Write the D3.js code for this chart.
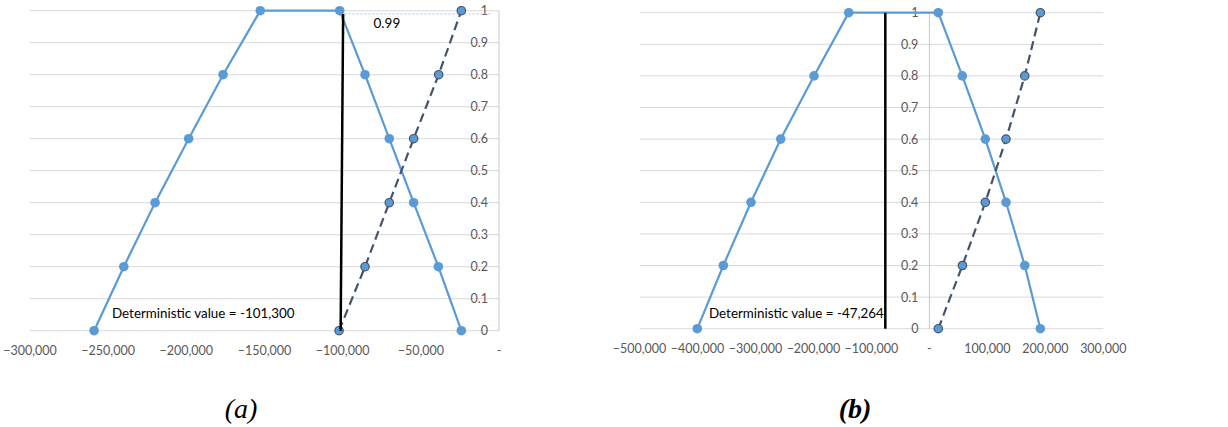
<!DOCTYPE html>
<html>
<head>
<meta charset="utf-8">
<script src="https://cdn.jsdelivr.net/npm/d3@7"></script>
<style>
  body { margin: 0; background: #fff; }
  svg { display: block; }
</style>
</head>
<body>
<svg id="chart" width="1228" height="427"></svg>
<script>
// membership levels, same for both panels
const solidLevels = [0, 0.2, 0.4, 0.6, 0.8, 1, 1, 0.8, 0.6, 0.4, 0.2, 0];
const dashLevels = [0, 0.2, 0.4, 0.6, 0.8, 1];
const yTicks = [0, 0.1, 0.2, 0.3, 0.4, 0.5, 0.6, 0.7, 0.8, 0.9, 1];

// panel (a)
const aSolidX = [-259000, -240000, -220000, -198500, -176500, -152700, -101900, -85700, -70200, -54600, -38800, -24100];
const aDashX = [-102300, -85700, -70200, -54600, -38600, -24100];
const aTicks = [-300000, -250000, -200000, -150000, -100000, -50000, 0];
const aDet = { x0: -101300, x1: -99700, top: 0.99, label: "Deterministic value = -101,300" };

// panel (b)
const bSolidX = [-400300, -355400, -307700, -256400, -199000, -139100, 15400, 56800, 96500, 132200, 164500, 191400];
const bDashX = [15400, 57000, 96500, 132200, 164500, 191400];
const bTicks = [-500000, -400000, -300000, -200000, -100000, 0, 100000, 200000, 300000];
const bDet = { x0: -76000, x1: -76000, top: 1, label: "Deterministic value = -47,264" };

const blue = "#5b9bd5", slate = "#44546a";
const svg = d3.select("#chart");

function fmtX(v) { return v === 0 ? "-" : d3.format(",")(v); }
function fmtY(v) { return v === 0 ? "0" : v === 1 ? "1" : d3.format(".1f")(v); }

function panel(opt) {
  const g = svg.append("g");
  const x = d3.scaleLinear().domain(opt.xDomain).range(opt.xRange);
  const y = d3.scaleLinear().domain([0, 1]).range(opt.yRange);

  // gridlines
  g.selectAll(".grid").data(yTicks).enter().append("line")
    .attr("x1", opt.xRange[0]).attr("x2", opt.xRange[1])
    .attr("y1", d => y(d)).attr("y2", d => y(d))
    .attr("stroke", "#d9d9d9").attr("stroke-width", 1);

  // vertical axis sits at x = 0
  g.append("line")
    .attr("x1", x(0)).attr("x2", x(0))
    .attr("y1", y(1)).attr("y2", y(0))
    .attr("stroke", "#c8c8c8").attr("stroke-width", 1);

  g.selectAll(".ylab").data(yTicks).enter().append("text")
    .attr("x", x(0) - 11).attr("y", d => y(d))
    .attr("text-anchor", "end").attr("dominant-baseline", "central")
    .attr("font-family", "Lato, sans-serif").attr("font-size", 12.5)
    .attr("fill", "#595959").text(fmtY);

  g.selectAll(".xlab").data(opt.ticks).enter().append("text")
    .attr("x", d => x(d)).attr("y", opt.xLabY)
    .attr("text-anchor", "middle").attr("dominant-baseline", "central")
    .attr("font-family", "Lato, sans-serif").attr("font-size", 12.5)
    .attr("fill", "#595959").text(fmtX);

  const line = d3.line().x(d => x(d[0])).y(d => y(d[1]));
  const solid = opt.solid.map((v, i) => [v, solidLevels[i]]);
  const dash = opt.dash.map((v, i) => [v, dashLevels[i]]);

  if (opt.dotted) {
    g.append("line")
      .attr("x1", x(opt.dotted[0])).attr("x2", x(opt.dotted[1]))
      .attr("y1", y(opt.det.top)).attr("y2", y(opt.det.top))
      .attr("stroke", "#9dc3e6").attr("stroke-width", 1)
      .attr("stroke-dasharray", "2,2");
    g.append("text")
      .attr("x", x(opt.dotted[0]) + 29).attr("y", y(0.99) + 9)
      .attr("dominant-baseline", "central")
      .attr("font-family", "Lato, sans-serif").attr("font-size", 13.5)
      .attr("fill", "#000").text("0.99");
  }

  g.append("path").datum(solid).attr("d", line)
    .attr("fill", "none").attr("stroke", blue).attr("stroke-width", 2.2);
  g.append("path").datum(dash).attr("d", line)
    .attr("fill", "none").attr("stroke", slate).attr("stroke-width", 2.2)
    .attr("stroke-dasharray", "9,5");

  g.selectAll(".ms").data(solid).enter().append("circle")
    .attr("cx", d => x(d[0])).attr("cy", d => y(d[1])).attr("r", 4.8)
    .attr("fill", blue);
  g.selectAll(".md").data(dash).enter().append("circle")
    .attr("cx", d => x(d[0])).attr("cy", d => y(d[1])).attr("r", 4.2)
    .attr("fill", blue).attr("stroke", slate).attr("stroke-width", 1.2);

  // deterministic value line
  g.append("line")
    .attr("x1", x(opt.det.x0)).attr("y1", y(0))
    .attr("x2", x(opt.det.x1)).attr("y2", y(opt.det.top))
    .attr("stroke", "#000").attr("stroke-width", 2.5);
  g.append("text")
    .attr("x", opt.detLabX).attr("y", opt.detLabY)
    .attr("dominant-baseline", "central")
    .attr("font-family", "Lato, sans-serif").attr("font-size", 13.4)
    .attr("fill", "#000").text(opt.det.label);

  g.append("text")
    .attr("x", opt.capX).attr("y", 418)
    .attr("text-anchor", "middle")
    .attr("font-family", "'Liberation Serif', serif").attr("font-size", 28)
    .attr("font-style", "italic").attr("font-weight", opt.capBold ? "bold" : "normal")
    .attr("fill", "#000").text(opt.caption);
}

panel({
  xDomain: [-300000, 0], xRange: [30, 499], yRange: [330.7, 10.7],
  ticks: aTicks, solid: aSolidX, dash: aDashX, det: aDet,
  dotted: [-98800, -5500], xLabY: 350,
  detLabX: 112, detLabY: 313, caption: "(a)", capX: 241, capBold: false
});
panel({
  xDomain: [-500000, 300000], xRange: [639.5, 1103.3], yRange: [328.7, 12.7],
  ticks: bTicks, solid: bSolidX, dash: bDashX, det: bDet,
  dotted: null, xLabY: 348,
  detLabX: 709, detLabY: 313, caption: "(b)", capX: 855, capBold: true
});
</script>
</body>
</html>
